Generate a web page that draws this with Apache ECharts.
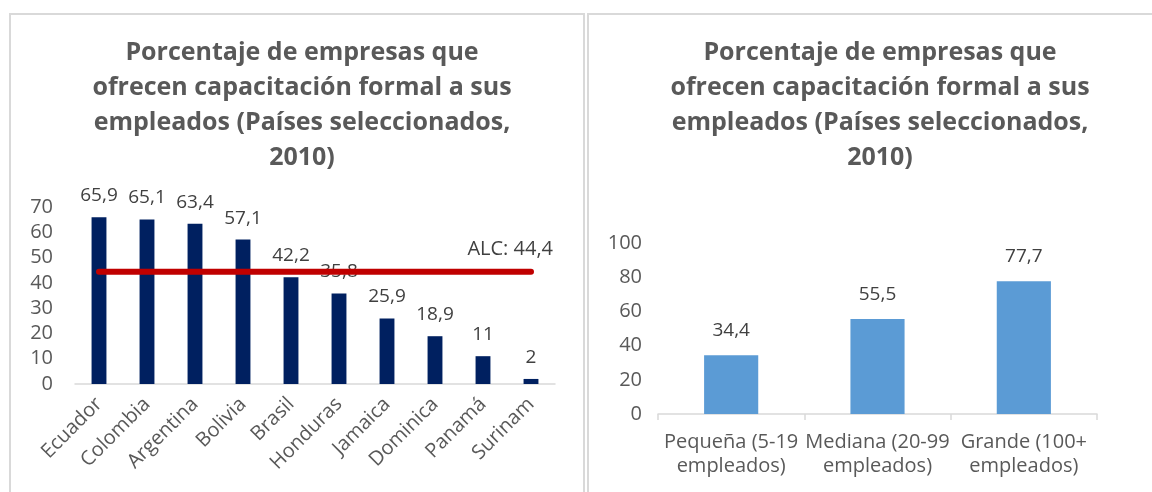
<!DOCTYPE html>
<html>
<head>
<meta charset="utf-8">
<script src="https://cdn.jsdelivr.net/npm/echarts@6/dist/echarts.min.js"></script>
<style>
  html, body { margin: 0; padding: 0; background: #fff; }
  #chart { width: 1152px; height: 492px; }
</style>
</head>
<body>
<div id="chart"></div>
<script>
// 國家別：提供正式訓練的企業比例
const countries = ["Ecuador", "Colombia", "Argentina", "Bolivia", "Brasil", "Honduras", "Jamaica", "Dominica", "Panamá", "Surinam"];
const countryShares = [65.9, 65.1, 63.4, 57.1, 42.2, 35.8, 25.9, 18.9, 11, 2];
// 區域平均 (ALC)
const alcLine = [44.4, 44.4, 44.4, 44.4, 44.4, 44.4, 44.4, 44.4, 44.4, 44.4];

// 企業規模別
const sizes = ["Pequeña (5-19\nempleados)", "Mediana (20-99\nempleados)", "Grande (100+\nempleados)"];
const sizeShares = [34.4, 55.5, 77.7];

const leftTicks = { min: 0, max: 70, interval: 10 };
const rightTicks = { min: 0, max: 100, interval: 20 };

const titleText = "Porcentaje de empresas que\nofrecen capacitación formal a sus\nempleados (Países seleccionados,\n2010)";

const FONT = "Open Sans";
const GRAY = "#595959";
const LINE_GRAY = "#d9d9d9";

// 小數點改成逗號
const comma = (v) => String(v).replace(".", ",");

const titleStyle = {
  fontFamily: FONT,
  fontSize: 25,
  fontWeight: "bold",
  color: GRAY,
  lineHeight: 35,
};

const chart = echarts.init(document.getElementById("chart"), null, { renderer: "canvas" });

chart.setOption({
  backgroundColor: "#fff",
  animation: false,
  textStyle: { fontFamily: FONT },
  graphic: [
    {
      type: "rect",
      shape: { x: 10, y: 14, width: 574, height: 500 },
      style: { fill: "none", stroke: LINE_GRAY, lineWidth: 2 },
    },
    {
      type: "rect",
      shape: { x: 588, y: 14, width: 580, height: 500 },
      style: { fill: "none", stroke: LINE_GRAY, lineWidth: 2 },
    },
  ],
  title: [
    { text: titleText, left: 297, top: 30, textAlign: "center", textStyle: titleStyle },
    { text: titleText, left: 875, top: 30, textAlign: "center", textStyle: titleStyle },
  ],
  grid: [
    { left: 75, right: 597, top: 207, bottom: 108 },
    { left: 658, right: 55, top: 243, bottom: 78 },
  ],
  xAxis: [
    {
      type: "category",
      gridIndex: 0,
      data: countries,
      axisLine: { lineStyle: { color: LINE_GRAY, width: 1.5 } },
      axisTick: { show: false },
      axisLabel: { interval: 0, rotate: 45, margin: 17, fontSize: 20, color: GRAY, fontFamily: FONT },
    },
    {
      type: "category",
      gridIndex: 1,
      data: sizes,
      axisLine: { lineStyle: { color: LINE_GRAY, width: 1.5 } },
      axisTick: { show: true, length: 6, lineStyle: { color: LINE_GRAY, width: 1.5 } },
      axisLabel: { interval: 0, margin: 16, fontSize: 20, lineHeight: 24, color: GRAY, fontFamily: FONT },
    },
  ],
  yAxis: [
    {
      type: "value",
      gridIndex: 0,
      min: leftTicks.min,
      max: leftTicks.max,
      interval: leftTicks.interval,
      axisLine: { show: false },
      axisTick: { show: false },
      splitLine: { show: false },
      axisLabel: { margin: 22, fontSize: 20, color: GRAY, fontFamily: FONT },
    },
    {
      type: "value",
      gridIndex: 1,
      min: rightTicks.min,
      max: rightTicks.max,
      interval: rightTicks.interval,
      axisLine: { show: false },
      axisTick: { show: false },
      splitLine: { show: false },
      axisLabel: { margin: 16, fontSize: 20, color: GRAY, fontFamily: FONT },
    },
  ],
  series: [
    {
      type: "bar",
      xAxisIndex: 0,
      yAxisIndex: 0,
      data: countryShares,
      barWidth: "31%",
      itemStyle: { color: "#002060" },
      label: {
        show: true,
        position: "top",
        distance: 12,
        fontSize: 19,
        color: "#404040",
        fontFamily: FONT,
        formatter: (p) => comma(p.value),
      },
    },
    {
      type: "line",
      xAxisIndex: 0,
      yAxisIndex: 0,
      data: alcLine,
      symbol: "none",
      lineStyle: { color: "#C00000", width: 6, cap: "round" },
      endLabel: {
        show: true,
        align: "right",
        offset: [14, -22],
        fontSize: 20,
        color: "#404040",
        fontFamily: FONT,
        formatter: (p) => "ALC: " + comma(p.value),
      },
      z: 3,
    },
    {
      type: "bar",
      xAxisIndex: 1,
      yAxisIndex: 1,
      data: sizeShares,
      barWidth: "37%",
      itemStyle: { color: "#5B9BD5" },
      label: {
        show: true,
        position: "top",
        distance: 15,
        fontSize: 19,
        color: "#404040",
        fontFamily: FONT,
        formatter: (p) => comma(p.value),
      },
    },
  ],
});
</script>
</body>
</html>
